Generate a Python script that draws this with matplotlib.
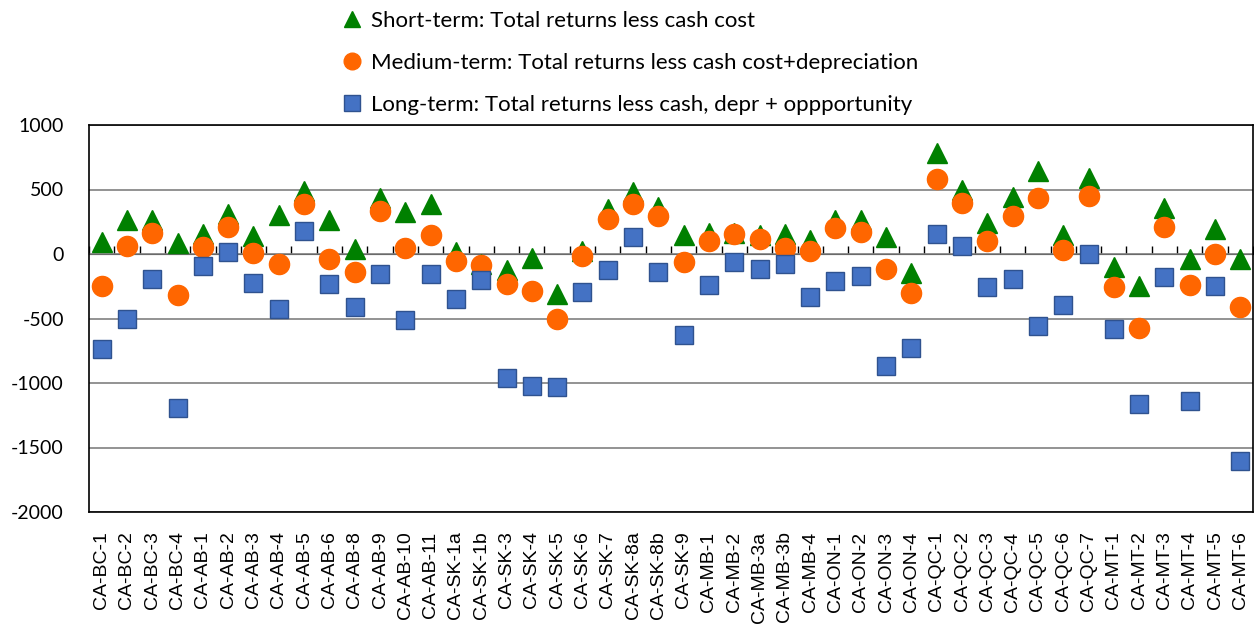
import matplotlib
matplotlib.use("Agg")
import matplotlib.pyplot as plt
from matplotlib.lines import Line2D
import numpy as np

plt.rcParams['font.family'] = ['Lato', 'DejaVu Sans']

farms = ["CA-BC-1", "CA-BC-2", "CA-BC-3", "CA-BC-4",
         "CA-AB-1", "CA-AB-2", "CA-AB-3", "CA-AB-4", "CA-AB-5", "CA-AB-6",
         "CA-AB-8", "CA-AB-9", "CA-AB-10", "CA-AB-11",
         "CA-SK-1a", "CA-SK-1b", "CA-SK-3", "CA-SK-4", "CA-SK-5", "CA-SK-6",
         "CA-SK-7", "CA-SK-8a", "CA-SK-8b", "CA-SK-9",
         "CA-MB-1", "CA-MB-2", "CA-MB-3a", "CA-MB-3b", "CA-MB-4",
         "CA-ON-1", "CA-ON-2", "CA-ON-3", "CA-ON-4",
         "CA-QC-1", "CA-QC-2", "CA-QC-3", "CA-QC-4", "CA-QC-5", "CA-QC-6", "CA-QC-7",
         "CA-MT-1", "CA-MT-2", "CA-MT-3", "CA-MT-4", "CA-MT-5", "CA-MT-6"]

short_term = [90, 265, 265, 85,
              157, 311, 136, 306, 491, 260,
              36, 432, 327, 386,
              13, -77, -126, -33, -309, 21,
              347, 481, 365, 144,
              160, 162, 144, 152, 105,
              265, 260, 134, -144,
              780, 494, 237, 443, 646, 147, 589,
              -98, -250, 355, -41, 196, -41]

medium_term = [-250, 59, 162, -319,
               57, 208, 5, -75, 386, -41,
               -141, 337, 44, 149,
               -54, -87, -229, -283, -507, -13,
               270, 391, 298, -62,
               98, 152, 116, 49, 23,
               198, 167, -118, -301,
               581, 399, 103, 298, 435, 28, 453,
               -257, -576, 208, -242, 3, -412]

long_term = [-733, -502, -190, -1191,
             -90, 15, -226, -425, 175, -229,
             -409, -152, -515, -154,
             -352, -198, -962, -1024, -1029, -298,
             -121, 134, -136, -628,
             -237, -64, -113, -75, -334,
             -211, -172, -867, -731,
             154, 64, -255, -196, -561, -396, 3,
             -579, -1163, -180, -1137, -247, -1601]

labels = ["Short-term: Total returns less cash cost",
          "Medium-term: Total returns less cash cost+depreciation",
          "Long-term: Total returns less cash, depr + oppportunity"]

y_ticks = [1000, 500, 0, -500, -1000, -1500, -2000]

fig = plt.figure(figsize=(12.54, 6.24), dpi=100)
ax = fig.add_axes([89/1254, 1 - 512/624, (1253 - 89)/1254, (512 - 125)/624])

x = np.arange(len(farms))
ax.plot(x, short_term, linestyle='none', marker='^', markersize=14,
        color='#008000', markeredgecolor='#008000', zorder=3)
ax.plot(x, medium_term, linestyle='none', marker='o', markersize=14.5,
        color='#FF6600', markeredgecolor='#FF6600', zorder=4)
ax.plot(x, long_term, linestyle='none', marker='s', markersize=13.5,
        color='#4472C4', markeredgecolor='#2F528F', markeredgewidth=1.0, zorder=5)

ax.set_xlim(-0.5, len(farms) - 0.5)
ax.set_ylim(-2000, 1000)
ax.set_yticks(y_ticks)
ax.set_yticklabels([str(v) for v in y_ticks], fontsize=14)
ax.tick_params(axis='y', length=0, pad=18)
ax.set_xticks(x)
ax.set_xticklabels(farms, rotation=90, fontsize=14, family=['Liberation Sans', 'DejaVu Sans'])
ax.tick_params(axis='x', length=0, pad=14)

ax.yaxis.grid(True, color='#808080', linewidth=1.2)
ax.set_axisbelow(True)
for s in ax.spines.values():
    s.set_color('black')
    s.set_linewidth(1.2)

# x-axis line at zero with category-boundary ticks
zero_frac = (0 - (-2000)) / 3000
sec = ax.secondary_xaxis(zero_frac)
sec.set_xticks(np.arange(len(farms) + 1) - 0.5)
sec.tick_params(axis='x', direction='out', length=6, width=1, colors='black', labelbottom=False, labeltop=False)
sec.spines['bottom'].set_color('black')
sec.spines['bottom'].set_linewidth(1.2)

handles = [Line2D([], [], linestyle='none', marker='^', markersize=12, color='#008000'),
           Line2D([], [], linestyle='none', marker='o', markersize=12, color='#FF6600'),
           Line2D([], [], linestyle='none', marker='s', markersize=11, color='#4472C4',
                  markeredgecolor='#2F528F')]
fig.legend(handles, labels, loc='upper left', bbox_to_anchor=(330/1254, 1 + 0.5/624),
           frameon=False, fontsize=16, labelspacing=1.0, handlelength=1.0,
           handletextpad=0.35, borderpad=0.0)

fig.savefig("out.png", dpi=100)
